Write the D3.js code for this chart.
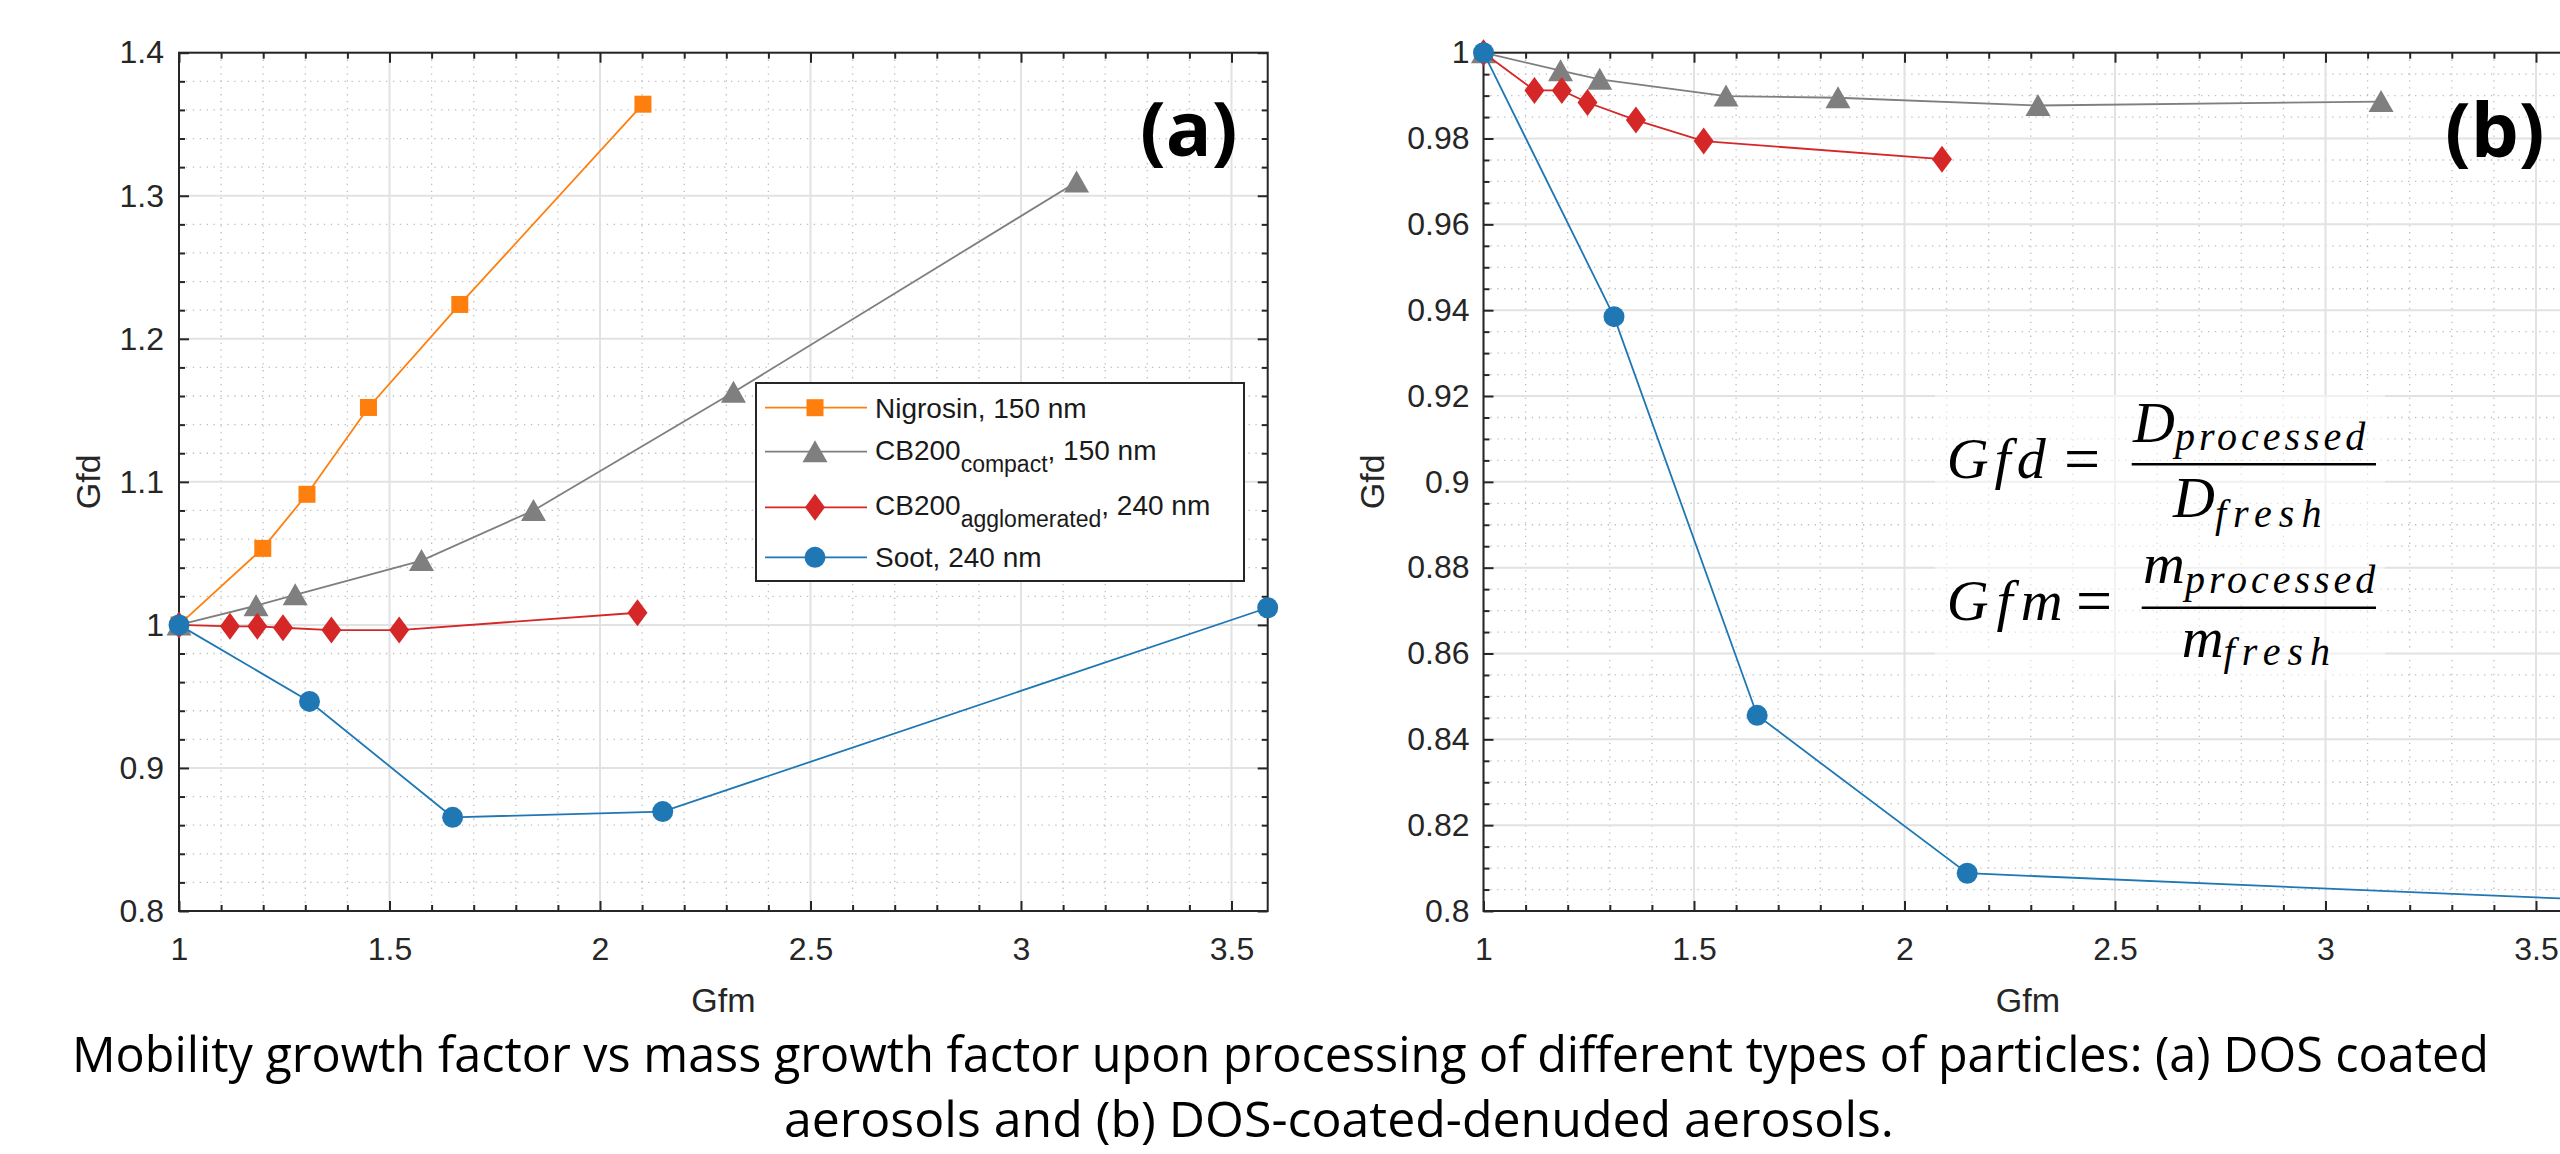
<!DOCTYPE html>
<html>
<head>
<meta charset="utf-8">
<script src="https://cdn.jsdelivr.net/npm/d3@7"></script>
<style>
  html, body { margin: 0; padding: 0; background: #fff; overflow: hidden; }
  svg { display: block; }
</style>
</head>
<body>
<svg id="chart" width="2560" height="1154"></svg>
<script>
// Gfm (x) of each particle type, same in both panels
const gfmNigrosin = [1, 1.199, 1.304, 1.450, 1.667, 2.102];
const gfmCompact  = [1, 1.183, 1.276, 1.576, 1.842, 2.317, 3.132];
const gfmAgglom   = [1, 1.121, 1.186, 1.247, 1.362, 1.523, 2.089];
const gfmSoot     = [1, 1.310, 1.650, 2.149, 3.586];

// Gfd, panel (a): DOS coated
const gfdNigrosinA = [1, 1.0535, 1.0913, 1.152, 1.224, 1.364];
const gfdCompactA  = [1, 1.0134, 1.021, 1.045, 1.080, 1.1626, 1.3096];
const gfdAgglomA   = [1, 0.999, 0.999, 0.998, 0.9964, 0.9964, 1.0085];
const gfdSootA     = [1, 0.9465, 0.8655, 0.8695, 1.012];

// Gfd, panel (b): DOS coated-denuded
const gfdCompactB = [1, 0.9958, 0.9938, 0.9899, 0.9895, 0.9877, 0.9886];
const gfdAgglomB  = [1, 0.9912, 0.9912, 0.9884, 0.9843, 0.9794, 0.9752];
const gfdSootB    = [1, 0.9385, 0.8456, 0.8088, 0.8028];

// tick labels
const xTickVals  = [1, 1.5, 2, 2.5, 3, 3.5];
const yTickValsA = [0.8, 0.9, 1, 1.1, 1.2, 1.3, 1.4];
const yTickValsB = [0.8, 0.82, 0.84, 0.86, 0.88, 0.9, 0.92, 0.94, 0.96, 0.98, 1];

// legend
const legendNames = ["Nigrosin", "CB200", "CB200", "Soot"];
const legendSubs  = ["", "compact", "agglomerated", ""];
const legendSizes = ["150 nm", "150 nm", "240 nm", "240 nm"];

const captionLines = [
  "Mobility growth factor vs mass growth factor upon processing of different types of particles: (a) DOS coated",
  "aerosols and (b) DOS-coated-denuded aerosols."
];

const colors = { orange: "#ff7f0e", gray: "#7f7f7f", red: "#d62728", blue: "#1f77b4" };
const axisColor = "#262626";
const sans = "'Liberation Sans', Arial, sans-serif";

const svg = d3.select("#chart");

function markerPath(shape) {
  if (shape === "square") return "M-8.5,-8.5H8.5V8.5H-8.5Z";
  if (shape === "triangle") return "M0,-11.5L12.5,10.5H-12.5Z";
  if (shape === "diamond") return "M0,-13.5L10,0L0,13.5L-10,0Z";
  return d3.symbol(d3.symbolCircle, Math.PI * 10.5 * 10.5)();
}

const fmt = d => String(+d.toFixed(3));

function drawPanel(x, y, yTicks, yMinorStep) {
  const g = svg.append("g");
  const [left, right] = x.range();
  const [bottom, top] = y.range();

  // minor ticks / grid positions
  const xMinor = d3.range(1.1, x.domain()[1], 0.1)
    .filter(v => Math.abs(v * 2 - Math.round(v * 2)) > 1e-6);
  const yMinor = d3.range(y.domain()[0], y.domain()[1] + 1e-9, yMinorStep)
    .filter(v => !yTicks.some(t => Math.abs(t - v) < 1e-6));

  // minor grid (dotted)
  const grid = g.append("g");
  grid.selectAll(".gxm").data(xMinor).join("line")
    .attr("x1", d => x(d)).attr("x2", d => x(d))
    .attr("y1", top).attr("y2", bottom);
  grid.selectAll(".gym").data(yMinor).join("line")
    .attr("class", "gym")
    .attr("x1", left).attr("x2", right)
    .attr("y1", d => y(d)).attr("y2", d => y(d));
  grid.selectAll("line")
    .attr("stroke", "#bdbdbd").attr("stroke-width", 1.3)
    .attr("stroke-dasharray", "1.3,5.6");

  // major grid (solid)
  const gridM = g.append("g").attr("stroke", "#e2e2e2").attr("stroke-width", 2);
  gridM.selectAll("line.gx").data(xTickVals).join("line")
    .attr("class", "gx")
    .attr("x1", d => x(d)).attr("x2", d => x(d))
    .attr("y1", top).attr("y2", bottom);
  gridM.selectAll("line.gy").data(yTicks).join("line")
    .attr("class", "gy")
    .attr("x1", left).attr("x2", right)
    .attr("y1", d => y(d)).attr("y2", d => y(d));

  return { g, left, right, top, bottom, xMinor, yMinor };
}

function drawAxes(p, x, y, yTicks, yPad) {
  const { g, left, right, top, bottom, xMinor, yMinor } = p;
  const style = sel => {
    sel.select(".domain").remove();
    sel.selectAll("line").attr("stroke", axisColor).attr("stroke-width", 2);
    sel.selectAll("text")
      .attr("font-family", sans).attr("font-size", 32).attr("fill", axisColor);
  };
  g.append("g").attr("transform", `translate(0,${bottom})`)
    .call(d3.axisBottom(x).tickValues(xTickVals).tickSize(-10).tickPadding(26).tickFormat(fmt))
    .call(style);
  g.append("g").attr("transform", `translate(0,${bottom})`)
    .call(d3.axisBottom(x).tickValues(xMinor).tickSize(-6).tickFormat(""))
    .call(style);
  g.append("g").attr("transform", `translate(0,${top})`)
    .call(d3.axisTop(x).tickValues(xTickVals).tickSize(-10).tickFormat(""))
    .call(style);
  g.append("g").attr("transform", `translate(0,${top})`)
    .call(d3.axisTop(x).tickValues(xMinor).tickSize(-6).tickFormat(""))
    .call(style);
  g.append("g").attr("transform", `translate(${left},0)`)
    .call(d3.axisLeft(y).tickValues(yTicks).tickSize(-10).tickPadding(yPad).tickFormat(fmt))
    .call(style);
  g.append("g").attr("transform", `translate(${left},0)`)
    .call(d3.axisLeft(y).tickValues(yMinor).tickSize(-6).tickFormat(""))
    .call(style);
  g.append("g").attr("transform", `translate(${right},0)`)
    .call(d3.axisRight(y).tickValues(yTicks).tickSize(-10).tickFormat(""))
    .call(style);
  g.append("g").attr("transform", `translate(${right},0)`)
    .call(d3.axisRight(y).tickValues(yMinor).tickSize(-6).tickFormat(""))
    .call(style);

  g.append("rect")
    .attr("x", left).attr("y", top)
    .attr("width", right - left).attr("height", bottom - top)
    .attr("fill", "none").attr("stroke", axisColor).attr("stroke-width", 2);
}

function drawSeries(g, x, y, series) {
  const line = d3.line().x(d => x(d[0])).y(d => y(d[1]));
  series.forEach(s => {
    const pts = s.xs.map((v, i) => [v, s.ys[i]]);
    g.append("path").datum(pts)
      .attr("d", line).attr("fill", "none")
      .attr("stroke", s.color).attr("stroke-width", 1.8);
    g.selectAll(null).data(pts).join("path")
      .attr("transform", d => `translate(${x(d[0])},${y(d[1])})`)
      .attr("d", markerPath(s.shape))
      .attr("fill", s.color);
  });
}

function drawLabels(x, y, ylabX) {
  const [left, right] = x.range();
  svg.append("text")
    .attr("x", (left + right) / 2).attr("y", 1012)
    .attr("text-anchor", "middle")
    .attr("font-family", sans).attr("font-size", 34).attr("fill", axisColor)
    .text("Gfm");
  svg.append("text")
    .attr("transform", `translate(${ylabX},${(y.range()[0] + y.range()[1]) / 2}) rotate(-90)`)
    .attr("text-anchor", "middle")
    .attr("font-family", sans).attr("font-size", 34).attr("fill", axisColor)
    .text("Gfd");
}

// ---------- panel (a) ----------
const xA = d3.scaleLinear().domain([1, 3.586]).range([179, 179 + 2.586 * 421]);
const yA = d3.scaleLinear().domain([0.8, 1.4]).range([911, 52.7]);
const seriesA = [
  { xs: gfmNigrosin, ys: gfdNigrosinA, color: colors.orange, shape: "square" },
  { xs: gfmCompact, ys: gfdCompactA, color: colors.gray, shape: "triangle" },
  { xs: gfmAgglom, ys: gfdAgglomA, color: colors.red, shape: "diamond" },
  { xs: gfmSoot, ys: gfdSootA, color: colors.blue, shape: "circle" }
];
const pA = drawPanel(xA, yA, yTickValsA, 0.02);
drawAxes(pA, xA, yA, yTickValsA, 15);
drawSeries(pA.g, xA, yA, seriesA);
drawLabels(xA, yA, 100);

// legend of panel (a)
const leg = svg.append("g");
leg.append("rect")
  .attr("x", 756).attr("y", 383).attr("width", 488).attr("height", 198)
  .attr("fill", "#fff").attr("stroke", axisColor).attr("stroke-width", 2);
const legRowY = [407.7, 451.7, 507.3, 557.3];
const legBaseY = [418.3, 460, 515, 566.7];
seriesA.forEach((s, i) => {
  leg.append("line")
    .attr("x1", 765).attr("x2", 867).attr("y1", legRowY[i]).attr("y2", legRowY[i])
    .attr("stroke", s.color).attr("stroke-width", 1.8);
  leg.append("path")
    .attr("transform", `translate(815,${legRowY[i]})`)
    .attr("d", markerPath(s.shape)).attr("fill", s.color);
  const t = leg.append("text")
    .attr("x", 875).attr("y", legBaseY[i])
    .attr("font-family", sans).attr("font-size", 28).attr("fill", "#1a1a1a");
  t.append("tspan").text(legendNames[i]);
  if (legendSubs[i]) {
    t.append("tspan").attr("dy", 12).attr("font-size", 23).text(legendSubs[i]);
    t.append("tspan").attr("dy", -12).text(", " + legendSizes[i]);
  } else {
    t.append("tspan").text(", " + legendSizes[i]);
  }
});

svg.append("text")
  .attr("x", 1140).attr("y", 156)
  .attr("font-family", "'Open Sans', sans-serif").attr("font-weight", 700)
  .attr("font-size", 76).attr("fill", "#000")
  .text("(a)");

// ---------- panel (b) ----------
const xB = d3.scaleLinear().domain([1, 3.586]).range([1483.5, 1483.5 + 2.586 * 421]);
const yB = d3.scaleLinear().domain([0.8, 1]).range([911, 52.7]);
const seriesB = [
  { xs: gfmCompact, ys: gfdCompactB, color: colors.gray, shape: "triangle" },
  { xs: gfmAgglom, ys: gfdAgglomB, color: colors.red, shape: "diamond" },
  { xs: gfmSoot, ys: gfdSootB, color: colors.blue, shape: "circle" }
];
const pB = drawPanel(xB, yB, yTickValsB, 0.005);
drawAxes(pB, xB, yB, yTickValsB, 14);

// faint white backing of the formula
pB.g.append("rect")
  .attr("x", 1935).attr("y", 395).attr("width", 450).attr("height", 285)
  .attr("fill", "#fff").attr("opacity", 0.5);

drawSeries(pB.g, xB, yB, seriesB);
drawLabels(xB, yB, 1384);

svg.append("text")
  .attr("x", 2445).attr("y", 157)
  .attr("font-family", "'Open Sans', sans-serif").attr("font-weight", 700)
  .attr("font-size", 76).attr("fill", "#000")
  .text("(b)");

// formula
const serif = "'Liberation Serif', 'Times New Roman', serif";
const fx = svg.append("g").attr("font-family", serif).attr("fill", "#000");
function mathText(xp, yp, main, sub, subDy, mainLs, subLs) {
  const t = fx.append("text").attr("x", xp).attr("y", yp)
    .attr("font-style", "italic").attr("font-size", 58);
  t.append("tspan").attr("letter-spacing", mainLs).text(main);
  if (sub) t.append("tspan").attr("dy", subDy).attr("font-size", 40)
    .attr("letter-spacing", subLs).text(sub);
}
mathText(1946.7, 478, "Gfd", "", 0, 6, 0);
fx.append("text").attr("x", 2064).attr("y", 480).attr("font-size", 64).text("=");
fx.append("line").attr("x1", 2131.7).attr("x2", 2376).attr("y1", 464.3).attr("y2", 464.3)
  .attr("stroke", "#000").attr("stroke-width", 2.5);
mathText(2133, 441.7, "D", "processed", 8, 0, 4);
mathText(2173, 516.7, "D", "fresh", 10, 0, 7);

mathText(1946.7, 620, "Gfm", "", 0, 8, 0);
fx.append("text").attr("x", 2076).attr("y", 622).attr("font-size", 64).text("=");
fx.append("line").attr("x1", 2141.7).attr("x2", 2376).attr("y1", 607.7).attr("y2", 607.7)
  .attr("stroke", "#000").attr("stroke-width", 2.5);
mathText(2143, 583.3, "m", "processed", 10, 0, 4);
mathText(2181.7, 656.7, "m", "fresh", 8, 0, 7);

// caption
svg.append("text")
  .attr("x", 72).attr("y", 1072)
  .attr("font-family", "'Open Sans', sans-serif").attr("font-size", 48.5).attr("fill", "#000")
  .text(captionLines[0]);
svg.append("text")
  .attr("x", 1339).attr("y", 1137).attr("text-anchor", "middle")
  .attr("font-family", "'Open Sans', sans-serif").attr("font-size", 50).attr("fill", "#000")
  .text(captionLines[1]);
</script>
</body>
</html>
